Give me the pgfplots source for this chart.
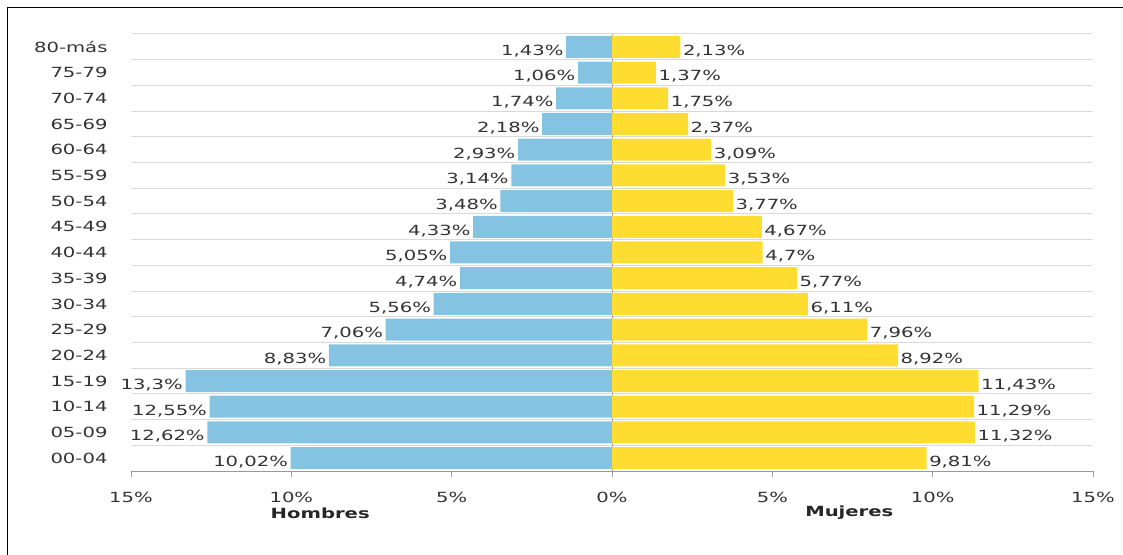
\documentclass[border=0pt]{standalone}
\usepackage{pgfplots}
\pgfplotsset{compat=1.18}
\usepackage{pgfplotstable}
\usepackage{fontspec}
\setmainfont[FakeStretch=1.4]{DejaVu Sans}

\definecolor{hombres}{HTML}{85C3E3}
\definecolor{mujeres}{HTML}{FEDC30}
\definecolor{txt}{HTML}{333333}

\pgfplotstableread{
pos m f
0 10.02 9.81
1 12.62 11.32
2 12.55 11.29
3 13.3 11.43
4 8.83 8.92
5 7.06 7.96
6 5.56 6.11
7 4.74 5.77
8 5.05 4.7
9 4.33 4.67
10 3.48 3.77
11 3.14 3.53
12 2.93 3.09
13 2.18 2.37
14 1.74 1.75
15 1.06 1.37
16 1.43 2.13
}\datos

\begin{document}
\begin{tikzpicture}[font=\fontsize{14bp}{16bp}\selectfont, text=txt]
\useasboundingbox (0,0) rectangle (1123bp,555bp);
\draw[line width=1.6bp] (7.5bp,0) |- (1123bp,547.5bp);
\begin{axis}[
    at={(131bp,84bp)}, anchor=south west,
    scale only axis,
    width=962bp, height=437bp,
    xbar, bar width=22bp, bar shift=0pt,
    xmin=-15, xmax=15,
    ymin=-0.5, ymax=16.5,
    axis lines*=left,
    y axis line style={draw=none},
    x axis line style={draw=black!40, line width=1pt},
    xtick={-15,-10,-5,0,5,10,15},
    xticklabels={15\%,10\%,5\%,0\%,5\%,10\%,15\%},
    tick align=outside,
    x tick style={draw=black!40, line width=0.8pt},
    major tick length=6bp,
    xticklabel style={yshift=-12bp},
    ytick={0,...,16},
    yticklabels={00-04,05-09,10-14,15-19,20-24,25-29,30-34,35-39,40-44,45-49,50-54,55-59,60-64,65-69,70-74,75-79,80-más},
    y tick style={draw=none},
    yticklabel style={xshift=-14bp},
    minor ytick={-0.5,0.5,...,16.5},
    yminorgrids,
    minor grid style={draw=black!15, line width=1pt},
    minor y tick style={draw=none},
    extra x ticks={0},
    extra x tick labels={},
    extra x tick style={grid=major, major grid style={draw=black!35, line width=0.8pt}},
    point meta=explicit,
    nodes near coords={\pgfmathprintnumber[use comma,fixed,precision=2,assume math mode=true]{\pgfplotspointmeta}\%},
    nodes near coords style={yshift=-4bp, text=txt, inner sep=2.5bp},
    /pgf/number format/assume math mode=true,
    clip=false,
]
\addplot[fill=hombres, draw=none, every node near coord/.append style={anchor=east}]
    table[x expr=-\thisrow{m}, y=pos, meta=m] {\datos};
\addplot[fill=mujeres, draw=none, every node near coord/.append style={anchor=west}]
    table[x=f, y=pos, meta=f] {\datos};
\node[font=\fontsize{14bp}{16bp}\selectfont\bfseries, text=black!85] at (axis cs:-9.1,-0.5) [yshift=-42bp] {Hombres};
\node[font=\fontsize{14bp}{16bp}\selectfont\bfseries, text=black!85] at (axis cs:7.4,-0.5) [yshift=-42bp] {Mujeres};
\end{axis}
\end{tikzpicture}
\end{document}
